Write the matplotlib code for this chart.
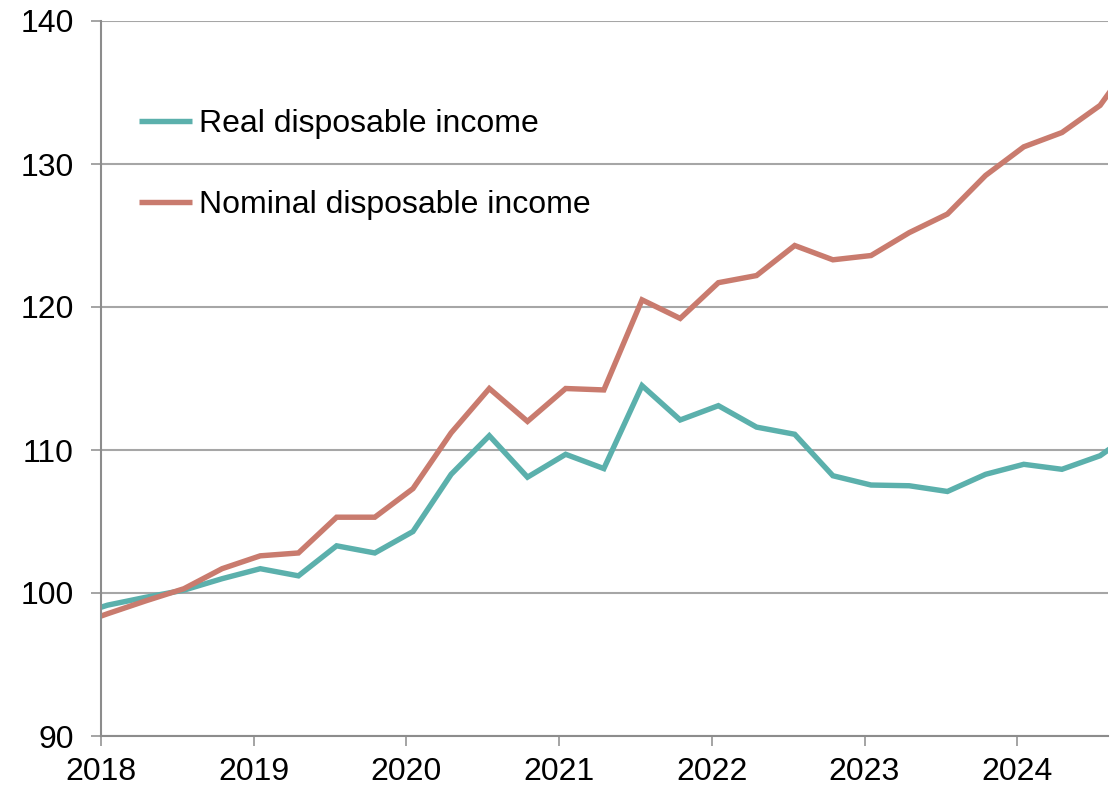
import matplotlib
matplotlib.use("Agg")
import matplotlib.pyplot as plt
import numpy as np

plt.rcParams['font.family'] = ['Liberation Sans', 'DejaVu Sans']

# quarterly index values, 2017Q4 .. 2024Q4 (first and last points fall just outside the axes)
quarters = ['2017Q4',
            '2018Q1', '2018Q2', '2018Q3', '2018Q4',
            '2019Q1', '2019Q2', '2019Q3', '2019Q4',
            '2020Q1', '2020Q2', '2020Q3', '2020Q4',
            '2021Q1', '2021Q2', '2021Q3', '2021Q4',
            '2022Q1', '2022Q2', '2022Q3', '2022Q4',
            '2023Q1', '2023Q2', '2023Q3', '2023Q4',
            '2024Q1', '2024Q2', '2024Q3', '2024Q4']
real_income = [98.3,
               99.15, 99.7, 100.2, 101.0,
               101.7, 101.2, 103.3, 102.8,
               104.3, 108.3, 111.0, 108.1,
               109.7, 108.7, 114.5, 112.1,
               113.1, 111.6, 111.1, 108.2,
               107.55, 107.5, 107.1, 108.3,
               109.0, 108.65, 109.6, 111.5]
nominal_income = [97.6,
                  98.55, 99.45, 100.3, 101.7,
                  102.6, 102.8, 105.3, 105.3,
                  107.3, 111.2, 114.3, 112.0,
                  114.3, 114.2, 120.5, 119.2,
                  121.7, 122.2, 124.3, 123.3,
                  123.6, 125.2, 126.5, 129.2,
                  131.2, 132.2, 134.1, 137.8]
year_ticks = [2018, 2019, 2020, 2021, 2022, 2023, 2024]

# points sit about two weeks into each quarter
x = np.array([int(q[:4]) + (int(q[-1]) - 1) / 4 + 0.043 for q in quarters])

teal = '#5BB0AC'
red = '#C97B6E'
grey = '#A6A6A6'

fig = plt.figure(figsize=(11.2, 7.89), dpi=100)
ax = fig.add_axes([101 / 1120, 1 - 736 / 789, 1007 / 1120, 715 / 789])

ax.plot(x, real_income, color=teal, lw=3.9, label='Real disposable income',
        solid_joinstyle='miter', solid_capstyle='butt')
ax.plot(x, nominal_income, color=red, lw=3.9, label='Nominal disposable income',
        solid_joinstyle='miter', solid_capstyle='butt')

ax.set_xlim(2018, 2018 + 1007 / 152.7)
ax.set_ylim(90, 140)
ax.set_xticks(year_ticks)
ax.set_xticklabels([str(y) for y in year_ticks])
ax.set_yticks(np.arange(90, 141, 10))

ax.yaxis.grid(True, color=grey, lw=1.5)
ax.set_axisbelow(True)
for s in ['top', 'right']:
    ax.spines[s].set_visible(False)
for s in ['left', 'bottom']:
    ax.spines[s].set_color('#8C8C8C')
    ax.spines[s].set_linewidth(1.5)
ax.tick_params(axis='both', labelsize=23, color='#8C8C8C', width=1.1,
               length=7, direction='out')
ax.tick_params(axis='y', pad=12.5)
ax.tick_params(axis='x', pad=8)

ax.legend(loc='upper left', bbox_to_anchor=(0.038, 0.877), frameon=False,
          fontsize=23, handlelength=1.65, handletextpad=0.22,
          labelspacing=1.6, borderaxespad=0, borderpad=0)

fig.savefig('out.png', dpi=100)
